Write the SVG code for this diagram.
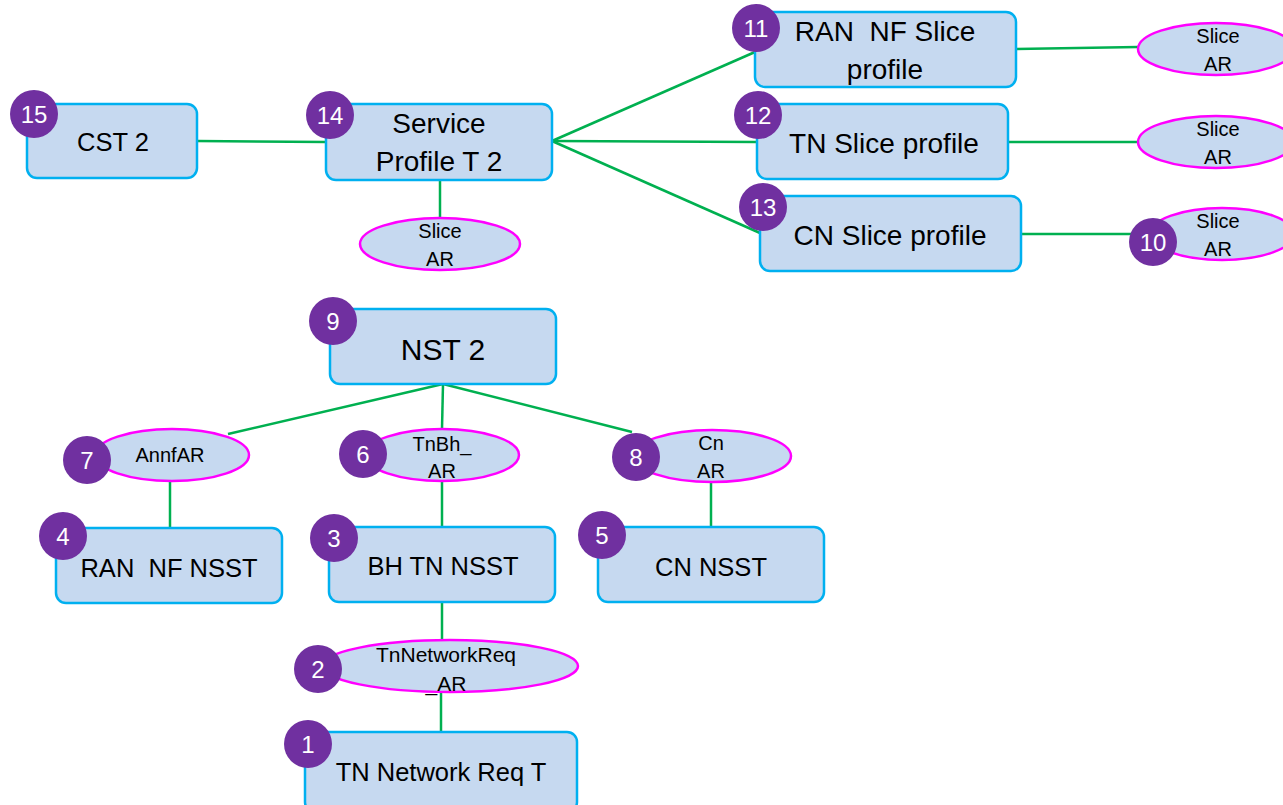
<svg xmlns="http://www.w3.org/2000/svg" width="1283" height="805" viewBox="0 0 1283 805">
<style>
.box{fill:#C6D9F0;stroke:#00B0F0;stroke-width:2.5}
.ell{fill:#C6D9F0;stroke:#FF00FF;stroke-width:2.5}
.con{stroke:#00B050;stroke-width:2.5;fill:none}
.badge{fill:#7030A0}
.num{fill:#fff;font-family:"Liberation Sans",Arial,sans-serif;font-size:24px;text-anchor:middle}
.t{fill:#000;font-family:"Liberation Sans",Arial,sans-serif;text-anchor:middle;white-space:pre}
.l{font-size:28px}
.m{font-size:25.5px}
.s{font-size:20px}
</style>
<g id="connectors">
<line class="con" x1="197" y1="141" x2="326" y2="142"/>
<line class="con" x1="552" y1="141" x2="755" y2="52"/>
<line class="con" x1="552" y1="141" x2="757" y2="142"/>
<line class="con" x1="552" y1="141" x2="760" y2="233"/>
<line class="con" x1="440" y1="180" x2="440" y2="218"/>
<line class="con" x1="1016" y1="49" x2="1138" y2="47"/>
<line class="con" x1="1008" y1="142" x2="1138" y2="142"/>
<line class="con" x1="1021" y1="234" x2="1150" y2="234"/>
<line class="con" x1="443" y1="384" x2="228" y2="434"/>
<line class="con" x1="443" y1="384" x2="442" y2="429"/>
<line class="con" x1="443" y1="384" x2="632" y2="432"/>
<line class="con" x1="170" y1="481" x2="170" y2="528"/>
<line class="con" x1="442" y1="481" x2="442" y2="527"/>
<line class="con" x1="711" y1="482" x2="711" y2="527"/>
<line class="con" x1="442" y1="602" x2="442" y2="640"/>
<line class="con" x1="441" y1="692" x2="441" y2="732"/>
</g>
<g id="n15">
<rect class="box" x="27" y="104" width="170" height="74" rx="10"/>
<text class="t m" x="113" y="151">CST 2</text>
<circle class="badge" cx="34" cy="114" r="24"/><text class="num" x="34" y="123">15</text>
</g>
<g id="n14">
<rect class="box" x="326" y="104" width="226" height="76" rx="10"/>
<text class="t l" x="439" y="133">Service</text>
<text class="t l" x="439" y="171">Profile T 2</text>
<circle class="badge" cx="330" cy="115" r="24"/><text class="num" x="330" y="124">14</text>
</g>
<g id="n14ar">
<ellipse class="ell" cx="440" cy="244" rx="80" ry="26"/>
<text class="t s" x="440" y="238">Slice</text>
<text class="t s" x="440" y="266">AR</text>
</g>
<g id="n11">
<rect class="box" x="755" y="12" width="261" height="75" rx="10"/>
<text class="t l" x="885" y="41">RAN  NF Slice</text>
<text class="t l" x="885" y="79">profile</text>
<circle class="badge" cx="756" cy="28" r="24"/><text class="num" x="756" y="37">11</text>
</g>
<g id="n11ar">
<ellipse class="ell" cx="1216" cy="49" rx="78" ry="26"/>
<text class="t s" x="1218" y="43">Slice</text>
<text class="t s" x="1218" y="71">AR</text>
</g>
<g id="n12">
<rect class="box" x="757" y="104" width="251" height="75" rx="10"/>
<text class="t l" x="884" y="153">TN Slice profile</text>
<circle class="badge" cx="758" cy="115" r="24"/><text class="num" x="758" y="124">12</text>
</g>
<g id="n12ar">
<ellipse class="ell" cx="1216" cy="142" rx="78" ry="26"/>
<text class="t s" x="1218" y="136">Slice</text>
<text class="t s" x="1218" y="164">AR</text>
</g>
<g id="n13">
<rect class="box" x="760" y="196" width="261" height="75" rx="10"/>
<text class="t l" x="890" y="245">CN Slice profile</text>
<circle class="badge" cx="763" cy="207" r="24"/><text class="num" x="763" y="216">13</text>
</g>
<g id="n10">
<ellipse class="ell" cx="1222" cy="234" rx="72" ry="26"/>
<text class="t s" x="1218" y="228">Slice</text>
<text class="t s" x="1218" y="256">AR</text>
<circle class="badge" cx="1153" cy="242" r="24"/><text class="num" x="1153" y="251">10</text>
</g>
<g id="n9">
<rect class="box" x="330" y="309" width="226" height="75" rx="10"/>
<text class="t" style="font-size:30px" x="443" y="360">NST 2</text>
<circle class="badge" cx="333" cy="321" r="24"/><text class="num" x="333" y="330">9</text>
</g>
<g id="n7">
<ellipse class="ell" cx="172" cy="455" rx="77" ry="26"/>
<text class="t s" x="170" y="462">AnnfAR</text>
<circle class="badge" cx="87" cy="460" r="24"/><text class="num" x="87" y="469">7</text>
</g>
<g id="n6">
<ellipse class="ell" cx="442" cy="455" rx="77" ry="26"/>
<text class="t s" x="442" y="451">TnBh_</text>
<text class="t s" x="442" y="478">AR</text>
<circle class="badge" cx="363" cy="454" r="24"/><text class="num" x="363" y="463">6</text>
</g>
<g id="n8">
<ellipse class="ell" cx="712" cy="456" rx="79" ry="26"/>
<text class="t s" x="711" y="450">Cn</text>
<text class="t s" x="711" y="478">AR</text>
<circle class="badge" cx="636" cy="457" r="24"/><text class="num" x="636" y="466">8</text>
</g>
<g id="n4">
<rect class="box" x="56" y="528" width="226" height="75" rx="10"/>
<text class="t m" x="169" y="577">RAN  NF NSST</text>
<circle class="badge" cx="63" cy="536" r="24"/><text class="num" x="63" y="545">4</text>
</g>
<g id="n3">
<rect class="box" x="329" y="527" width="226" height="75" rx="10"/>
<text class="t m" x="443" y="575">BH TN NSST</text>
<circle class="badge" cx="334" cy="538" r="24"/><text class="num" x="334" y="547">3</text>
</g>
<g id="n5">
<rect class="box" x="598" y="527" width="226" height="75" rx="10"/>
<text class="t m" x="711" y="576">CN NSST</text>
<circle class="badge" cx="602" cy="535" r="24"/><text class="num" x="602" y="544">5</text>
</g>
<g id="n2">
<ellipse class="ell" cx="450" cy="666" rx="128" ry="26"/>
<text class="t" style="font-size:21px" x="446" y="662">TnNetworkReq</text>
<text class="t" style="font-size:21px" x="446" y="691">_AR</text>
<circle class="badge" cx="318" cy="669" r="24"/><text class="num" x="318" y="678">2</text>
</g>
<g id="n1">
<rect class="box" x="305" y="732" width="272" height="80" rx="10"/>
<text class="t m" x="441" y="781">TN Network Req T</text>
<circle class="badge" cx="308" cy="744" r="24"/><text class="num" x="308" y="753">1</text>
</g>
</svg>
